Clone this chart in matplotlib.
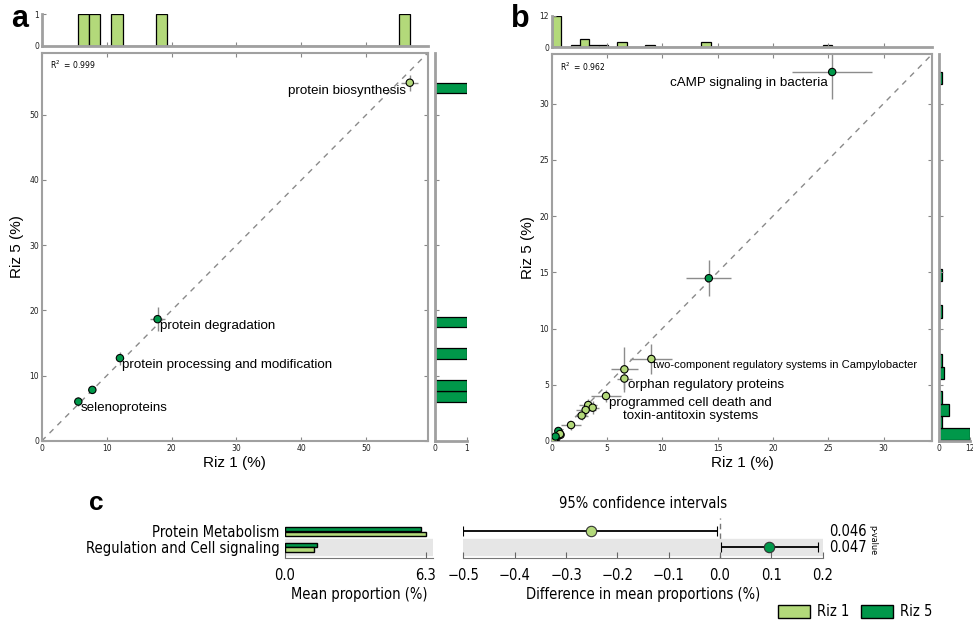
import numpy as np
import matplotlib
matplotlib.use('Agg')
import matplotlib.pyplot as plt
from matplotlib.patches import Patch
from matplotlib import font_manager as fm
import matplotlib.transforms as mtransforms

# ---------------- data ----------------
# panel a
a_riz1 = [5.64, 7.80, 12.05, 17.85, 56.70]
a_riz5 = [6.04, 7.83, 12.70, 18.67, 54.90]
a_riz1_err = [0.4, 0.4, 0.5, 1.15, 1.3]
a_riz5_err = [0.7, 0.4, 1.0, 1.8, 1.2]
a_labels = ['selenoproteins', '', 'protein processing and modification',
            'protein degradation', 'protein biosynthesis']
a_r2 = '0.999'
a_ticks = [0, 10, 20, 30, 40, 50]

# panel b
b_riz1 = [25.35, 14.20, 9.01, 6.57, 6.57, 4.91, 3.30, 3.70, 3.07, 2.71, 1.75,
          0.69, 0.60, 0.45, 0.15, 0.05, 0.80, 0.75, 0.30, 0.10, 0.02, 0.20, 0.35]
b_riz5 = [32.80, 14.47, 7.29, 6.37, 5.55, 4.00, 3.20, 2.96, 2.76, 2.26, 1.42,
          0.68, 0.89, 0.30, 0.15, 0.10, 0.55, 0.62, 0.25, 0.20, 0.05, 0.12, 0.40]
b_riz1_err = [3.6, 2.05, 1.9, 1.2, 0.7, 1.35, 0.8, 0.6, 0.9, 0.6, 0.9,
              0.3, 0.25, 0.2, 0.1, 0.05, 0.2, 0.15, 0.1, 0.05, 0.02, 0.1, 0.1]
b_riz5_err = [2.4, 1.6, 1.3, 2.0, 0.9, 0.5, 0.5, 0.6, 0.5, 0.4, 0.4,
              0.3, 0.3, 0.2, 0.1, 0.05, 0.15, 0.1, 0.1, 0.05, 0.02, 0.05, 0.1]
# one more feature is counted in the marginal histograms but not visible in the scatter
b_hist_extra_riz1 = [13.9]
b_hist_extra_riz5 = [11.5]
b_labels = ['cAMP signaling in bacteria', '', 'two-component regulatory systems in Campylobacter',
            '', 'orphan regulatory proteins', 'programmed cell death and\ntoxin-antitoxin systems'] + [''] * 17
b_r2 = '0.962'
b_ticks = [0, 5, 10, 15, 20, 25, 30]

# panel c
c_categories = ['Protein Metabolism', 'Regulation and Cell signaling']
c_riz1_mean = [6.30, 1.31]
c_riz5_mean = [6.06, 1.41]
c_diff = [-0.252, 0.096]
c_ci_low = [-0.500, 0.001]
c_ci_high = [-0.005, 0.190]
c_pvalues = ['0.046', '0.047']
c_diff_ticks = [-0.5, -0.4, -0.3, -0.2, -0.1, 0.0, 0.1, 0.2]

# ---------------- style ----------------
LIGHT = '#b3d97a'
DARK = '#00984a'
SPINE = '#a0a0a0'
W, H = 973, 621
SANS = ['Liberation Sans', 'DejaVu Sans']

fig = plt.figure(figsize=(W / 100, H / 100), dpi=100)


def rect(x0, y0, x1, y1):
    return [x0 / W, 1 - y1 / H, (x1 - x0) / W, (y1 - y0) / H]


def style_frame(ax, sides=('left', 'bottom', 'right', 'top')):
    for s, sp in ax.spines.items():
        if s in sides:
            sp.set_color(SPINE)
            sp.set_linewidth(1.5)
        else:
            sp.set_visible(False)
    ax.tick_params(direction='in', colors='#888888', labelcolor='#222222',
                   labelsize=5.5, length=3, width=0.8, pad=2)
    for lab in ax.get_xticklabels() + ax.get_yticklabels():
        lab.set_family('DejaVu Sans')


def scatter_panel(main_r, top_r, right_r, x, y, xe, ye, lim, ticks,
                  hx, hy, top_max, right_max, labels, specs, r2, small_labels=()):
    x = np.asarray(x); y = np.asarray(y)
    ax = fig.add_axes(rect(*main_r))
    ax.plot([0, lim], [0, lim], ls=(0, (4, 4)), color='#8a8a8a', lw=1, zorder=1)
    ax.errorbar(x, y, xerr=xe, yerr=ye, fmt='none', ecolor='#8c8c8c', elinewidth=1, zorder=2)
    cols = [DARK if yy > xx else LIGHT for xx, yy in zip(x, y)]
    ax.scatter(x, y, s=28, c=cols, edgecolors='k', linewidths=0.8, zorder=3)
    ax.set_xlim(0, lim); ax.set_ylim(0, lim)
    ax.set_xticks(ticks); ax.set_yticks(ticks)
    ax.tick_params(top=True, right=True)
    style_frame(ax)
    ax.text(0.022, 0.968, 'R$^2$  = ' + r2, transform=ax.transAxes, fontsize=5.5,
            ha='left', va='center', family='DejaVu Sans')
    for i, lab in enumerate(labels):
        if not lab:
            continue
        ha, dx, dy = specs[i]
        ax.annotate(lab, (x[i], y[i]), xytext=(dx, dy), textcoords='offset points',
                    ha=ha, va='top', fontsize=8 if i in small_labels else 9.6,
                    family=SANS, multialignment='center', zorder=4)
    ax.set_xlabel('Riz 1 (%)', fontsize=11, family=SANS)
    ax.set_ylabel('Riz 5 (%)', fontsize=11, family=SANS)
    ax.xaxis.set_label_coords(0.5, -0.038)
    ax.yaxis.set_label_coords(-0.045, 0.5)

    axt = fig.add_axes(rect(*top_r))
    axt.hist(hx, bins=30, range=(min(hx), max(hx)), color=LIGHT, edgecolor='k', lw=0.9)
    axt.set_xlim(0, lim); axt.set_ylim(0, top_max)
    axt.set_xticks(ticks); axt.set_xticklabels([])
    axt.set_yticks([0, top_max])
    style_frame(axt, ('left', 'bottom'))
    axt.spines['left'].set_linewidth(2); axt.spines['bottom'].set_linewidth(2)

    axr = fig.add_axes(rect(*right_r))
    axr.hist(hy, bins=30, range=(min(hy), max(hy)), orientation='horizontal',
             color=DARK, edgecolor='k', lw=0.9)
    axr.set_ylim(0, lim); axr.set_xlim(0, right_max)
    axr.set_yticks(ticks); axr.set_yticklabels([])
    axr.set_xticks([0, right_max])
    style_frame(axr, ('left', 'bottom'))
    axr.spines['left'].set_linewidth(2); axr.spines['bottom'].set_linewidth(2)
    return ax


# panel a
a_specs = {0: ('left', 1.5, -0.5), 2: ('left', 1.5, -0.5), 3: ('left', 1.5, -0.5),
           4: ('right', -3.0, -2.0)}
scatter_panel((41.7, 52.7, 428, 441), (41.7, 14.3, 428, 45.7), (435, 52.7, 466.7, 441),
              a_riz1, a_riz5, a_riz1_err, a_riz5_err, 59.5, a_ticks,
              a_riz1, a_riz5, 1, 1, a_labels, a_specs, a_r2)

# panel b
b_specs = {0: ('right', -3.5, -3.5), 2: ('left', 1.5, -0.5), 4: ('left', 2.5, -0.5),
           5: ('left', 2.0, -0.5)}
scatter_panel((551.7, 54, 932.3, 441), (551.7, 15.7, 932.3, 47.3), (939, 54, 970, 441),
              b_riz1, b_riz5, b_riz1_err, b_riz5_err, 34.4, b_ticks,
              b_riz1 + b_hist_extra_riz1, b_riz5 + b_hist_extra_riz5, 12, 12,
              b_labels, b_specs, b_r2, small_labels=(2,))

for lab, px, py, fs in [('a', 20, 19, 22), ('b', 520, 19, 22), ('c', 96, 503, 19)]:
    fig.text(px / W, 1 - py / H, lab, fontsize=fs, fontweight='bold', family=SANS,
             ha='center', va='center')

# ---------------- panel c ----------------
cond = fm.FontProperties(family='DejaVu Sans', stretch='condensed')
has_cond = 'ondensed' in fm.findfont(cond)
CFS = 10.5 if has_cond else 9.5


def cfont(size=None):
    return dict(family='DejaVu Sans', stretch='condensed', fontsize=size or CFS)


rows = np.arange(len(c_categories))
y_lo, y_hi = 1.677, -0.854
c_top, c_bot = 518, 558

axb = fig.add_axes(rect(285, c_top, 433, c_bot))
axb.barh(rows - 0.14, c_riz5_mean, height=0.27, color=DARK, edgecolor='k', lw=1, zorder=2)
axb.barh(rows + 0.14, c_riz1_mean, height=0.27, color=LIGHT, edgecolor='k', lw=1, zorder=2)
for r in rows:
    if r % 2 == 1:
        axb.axhspan(r - 0.5, r + 0.5, color='#e6e6e6', zorder=0)
axb.set_ylim(y_lo, y_hi)
mx = max(max(c_riz1_mean), max(c_riz5_mean))
axb.set_xlim(0, mx * 1.05)
axb.set_xticks([0, mx])
axb.set_xticklabels(['%.1f' % 0, '%.1f' % mx], **cfont())
axb.set_yticks(rows)
axb.set_yticklabels(c_categories, **cfont())
axb.tick_params(axis='y', length=0, pad=4)
axb.tick_params(axis='x', direction='in', length=4, color='#666666', pad=7)
for s in ['left', 'right', 'top']:
    axb.spines[s].set_visible(False)
axb.spines['bottom'].set_color('#777777')
axb.set_xlabel('Mean proportion (%)', labelpad=3, **cfont())

axc = fig.add_axes(rect(463.3, c_top, 822.7, c_bot))
for r in rows:
    if r % 2 == 1:
        axc.axhspan(r - 0.5, r + 0.5, color='#e6e6e6', zorder=1)
axc.axvline(0, ls=(0, (4, 3)), color='#777777', lw=1, zorder=0.5)
for r in rows:
    col = LIGHT if c_diff[r] < 0 else DARK
    axc.errorbar([c_diff[r]], [r], xerr=[[c_diff[r] - c_ci_low[r]], [c_ci_high[r] - c_diff[r]]],
                 fmt='o', ms=7.5, mfc=col, mec='#333333', mew=0.8, ecolor='k',
                 elinewidth=1.3, capsize=3.5, capthick=1.2, zorder=3)
axc.set_ylim(y_lo, y_hi)
axc.set_xlim(c_diff_ticks[0], c_diff_ticks[-1])
axc.set_xticks(c_diff_ticks)
axc.set_xticklabels([('%.1f' % t).replace('-', '\u2212') for t in c_diff_ticks], **cfont())
axc.set_yticks([])
axc.tick_params(axis='x', direction='in', length=4, color='#666666', pad=7)
for s in ['left', 'right', 'top']:
    axc.spines[s].set_visible(False)
axc.spines['bottom'].set_color('#777777')
axc.set_xlabel('Difference in mean proportions (%)', labelpad=3, **cfont())
axc.set_title('95% confidence intervals', pad=7, **cfont())
tr = mtransforms.blended_transform_factory(axc.transAxes, axc.transData)
for r in rows:
    axc.text(1.018, r, c_pvalues[r], transform=tr, ha='left', va='center', **cfont())
fig.text(873 / W, 1 - 540 / H, 'p-value', rotation=270, ha='center', va='center', **cfont(6.5))

handles = [Patch(facecolor=LIGHT, edgecolor='k', lw=1, label='Riz 1'),
           Patch(facecolor=DARK, edgecolor='k', lw=1, label='Riz 5')]
fig.legend(handles=handles, loc='center right', bbox_to_anchor=(946 / W, 1 - 612 / H),
           ncol=2, frameon=False, handlelength=2.2, handleheight=1.0, handletextpad=0.5,
           columnspacing=0.8, prop=fm.FontProperties(family='DejaVu Sans', stretch='condensed', size=CFS))

fig.savefig('out.png', dpi=100)
